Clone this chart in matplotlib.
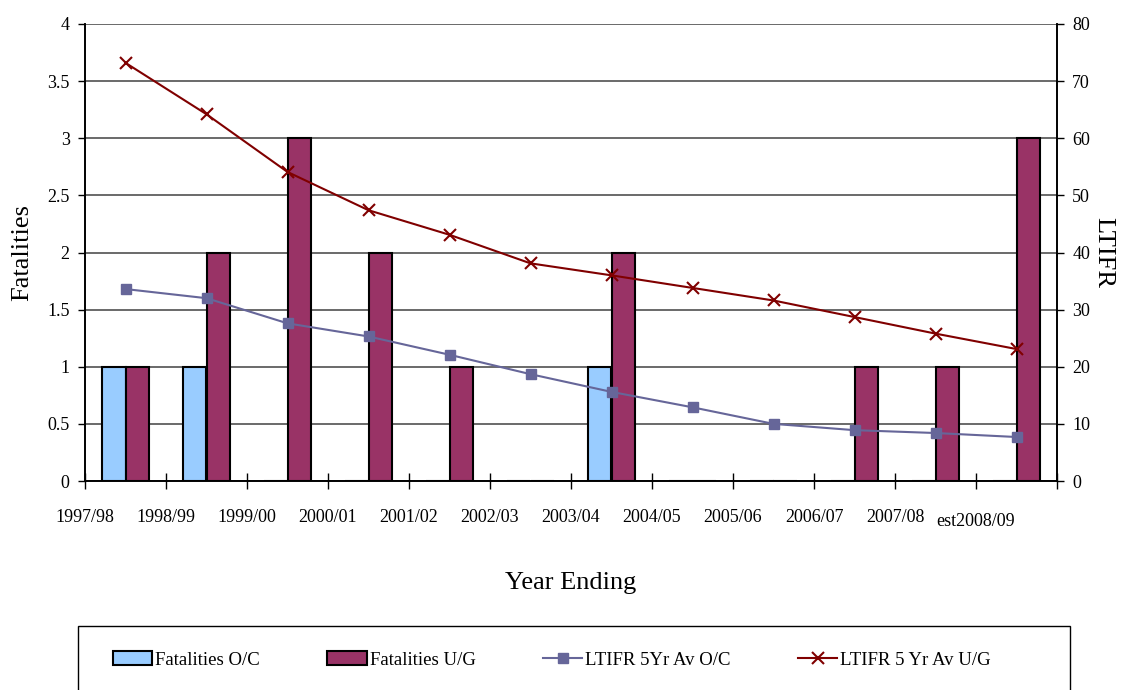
import numpy as np
import matplotlib
matplotlib.use("Agg")
import matplotlib.pyplot as plt
from matplotlib.patches import Rectangle

plt.rcParams['font.family'] = ['Liberation Serif', 'DejaVu Serif']

years = ['1997/98', '1998/99', '1999/00', '2000/01', '2001/02', '2002/03',
         '2003/04', '2004/05', '2005/06', '2006/07', '2007/08', 'est2008/09']
fat_oc = [1, 1, 0, 0, 0, 0, 1, 0, 0, 0, 0, 0]
fat_ug = [1, 2, 3, 2, 1, 0, 2, 0, 0, 1, 1, 3]
ltifr_oc = [33.6, 32.0, 27.6, 25.3, 22.1, 18.7, 15.6, 12.9, 10.0, 8.9, 8.4, 7.7]
ltifr_ug = [73.2, 64.2, 54.1, 47.4, 43.1, 38.1, 36.0, 33.8, 31.6, 28.7, 25.8, 23.1]

fig = plt.figure(figsize=(11.3, 6.9), dpi=100)
ax = fig.add_axes([85/1130, 1-481/690, 972/1130, 457/690])
ax2 = ax.twinx()

x = np.arange(len(years))
w = 0.284
ax.bar(x - w/2, fat_oc, w, color='#99CCFF', edgecolor='black', linewidth=1.5,
       label='Fatalities O/C', zorder=3)
ax.bar(x + w/2, fat_ug, w, color='#993366', edgecolor='black', linewidth=1.5,
       label='Fatalities U/G', zorder=3)

ax2.plot(x, ltifr_oc, color='#666699', marker='s', markersize=7, linewidth=1.5,
         label='LTIFR 5Yr Av O/C')
ax2.plot(x, ltifr_ug, color='#800000', marker='x', markersize=9, markeredgewidth=1.5,
         linewidth=1.5, label='LTIFR 5 Yr Av U/G')

ax.set_xlim(-0.5, 11.5)
ax.set_ylim(0, 4)
ax2.set_ylim(0, 80)
ax.set_yticks(np.arange(0, 4.01, 0.5))
ax.set_yticklabels(['0', '0.5', '1', '1.5', '2', '2.5', '3', '3.5', '4'])
ax2.set_yticks(np.arange(0, 81, 10))
ax.yaxis.grid(True, color='#505050', linewidth=1.2, zorder=0)
ax.set_axisbelow(True)

ax.set_xticks(np.arange(-0.5, 12, 1))
ax.set_xticklabels(years + [''])
for lbl in ax.get_xticklabels():
    if lbl.get_text().startswith('est'):
        lbl.set_y(-0.01)

ax.tick_params(axis='x', direction='inout', length=12, width=1, labelsize=13, pad=14)
ax.tick_params(axis='y', direction='out', length=5, width=1, labelsize=13, pad=6)
ax2.tick_params(axis='y', direction='out', length=5, width=1, labelsize=13, pad=6)

for a in (ax, ax2):
    a.spines['top'].set_visible(False)
    for s in ('left', 'right', 'bottom'):
        a.spines[s].set_linewidth(1.2)

ax.set_xlabel('Year Ending', fontsize=19, labelpad=30)
ax.set_ylabel('Fatalities', fontsize=19, labelpad=10)
ax2.set_ylabel('LTIFR', fontsize=19, rotation=-90, labelpad=17)

fig.patches.append(Rectangle((78/1130, -0.05), 992/1130, 1-626/690+0.05,
                             transform=fig.transFigure, fill=False,
                             edgecolor='black', linewidth=1))
h1, l1 = ax.get_legend_handles_labels()
h2, l2 = ax2.get_legend_handles_labels()
fig.legend(h1 + h2, l1 + l2, loc='center left', bbox_to_anchor=(96/1130, 1-660/690),
           ncol=4, frameon=False, fontsize=13.5, handlelength=2.1, handletextpad=0.15,
           columnspacing=3.6)

fig.savefig('out.png', dpi=100)
